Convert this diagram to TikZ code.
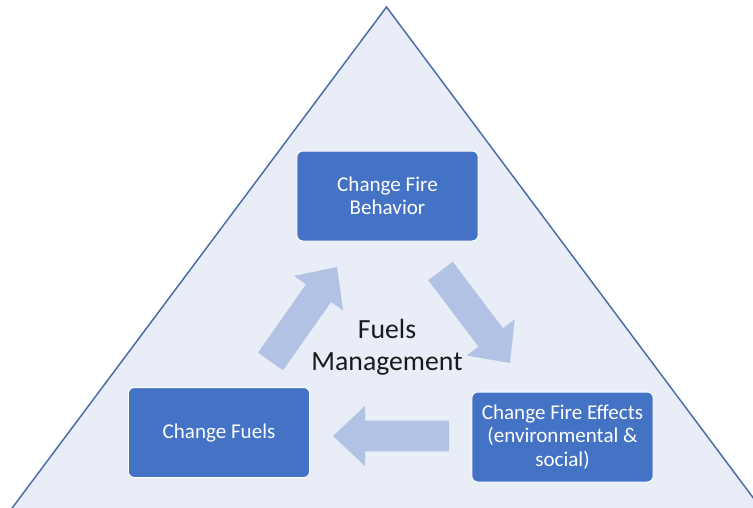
\documentclass[tikz,border=0pt]{standalone}
\usepackage{fontspec}
\setmainfont{Carlito}
\usetikzlibrary{calc}
\definecolor{trifill}{RGB}{233,237,247}
\definecolor{tristroke}{RGB}{72,108,168}
\definecolor{boxblue}{RGB}{68,114,196}
\definecolor{arrowblue}{RGB}{178,194,228}
\tikzset{
  stepbox/.style={draw=white, line width=0.75pt, fill=boxblue, rounded corners=4.5pt,
    text=white, align=center, inner sep=0pt, minimum width=136pt, minimum height=67.5pt,
    font=\fontsize{15.8pt}{17.4pt}\selectfont},
  centertext/.style={align=center, text=black!90, inner sep=0pt,
    font=\fontsize{20.8pt}{24pt}\selectfont},
  blockfill/.style={fill=arrowblue, draw=none}
}
\newcommand\myblockarrow[2]{%
  \fill[blockfill]
    ($(#1)!11.5pt!90:(#2)$) --
    ($($(#2)!24pt!(#1)$)!11.5pt!-90:(#1)$) --
    ($($(#2)!24pt!(#1)$)!22.5pt!-90:(#1)$) --
    (#2) --
    ($($(#2)!24pt!(#1)$)!22.5pt!90:(#1)$) --
    ($($(#2)!24pt!(#1)$)!11.5pt!90:(#1)$) --
    ($(#1)!11.5pt!-90:(#2)$) -- cycle;}
\begin{document}
\begin{tikzpicture}[x=0.75pt, y=-0.75pt]
\useasboundingbox (0,0) rectangle (753,507);
\clip (0,0) rectangle (753,507);
\fill[white] (0,0) rectangle (753,507);
% triangle
\coordinate (apex) at (386.5,7);
\coordinate (bl) at (-2,527);
\coordinate (br) at (775,527);
\draw[tristroke, fill=trifill, line width=1.1pt, line join=miter] (bl) -- (apex) -- (br);
% boxes
\node[stepbox] (beh) at (387.5,196) {Change Fire\\Behavior};
\node[stepbox] (fuels) at (219,432.5) {Change Fuels};
\node[stepbox] (eff) at (562.5,437) {Change Fire Effects\\(environmental \&\\social)};
% center text
\node[centertext] (fm) at (387,347) {Fuels\\Management};
% block arrows
\coordinate (upT) at (270.5,361.5);
\coordinate (upP) at (337,267);
\coordinate (dnT) at (440.5,271);
\coordinate (dnP) at (510,363);
\coordinate (lfT) at (449,436);
\coordinate (lfP) at (333,436);
\myblockarrow{upT}{upP}
\myblockarrow{dnT}{dnP}
\myblockarrow{lfT}{lfP}
\end{tikzpicture}
\end{document}
